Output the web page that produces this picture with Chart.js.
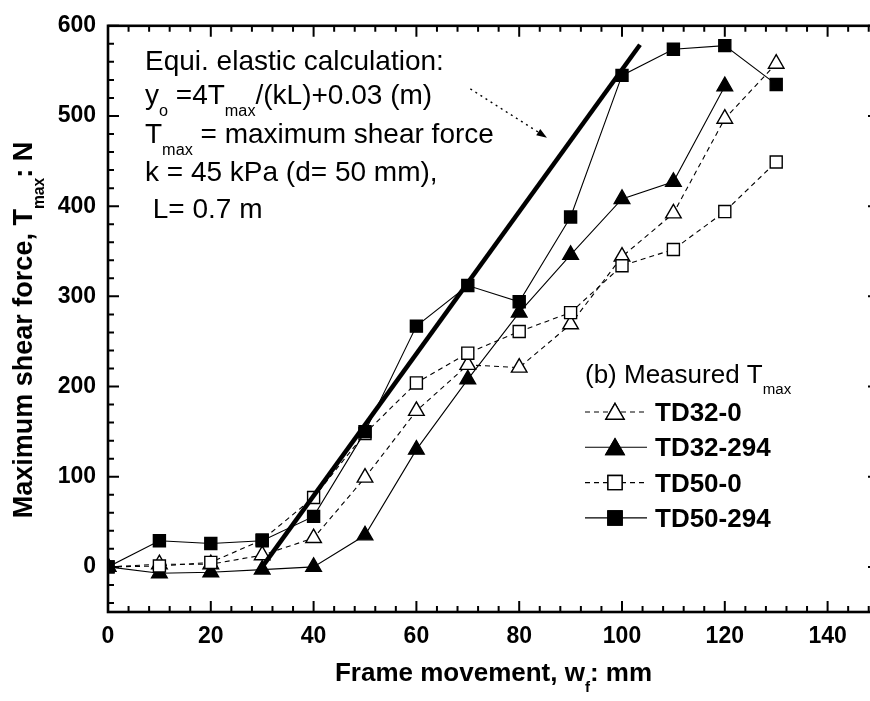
<!DOCTYPE html>
<html>
<head>
<meta charset="utf-8">
<script src="https://cdn.jsdelivr.net/npm/chart.js@4.4.0/dist/chart.umd.min.js"></script>
<style>
  html, body { margin: 0; padding: 0; background: #fff; overflow: hidden; }
  #wrap { position: relative; width: 900px; height: 701px; }
</style>
</head>
<body>
<div id="wrap"><canvas id="shear" width="900" height="701"></canvas></div>
<script>
// frame movement w_f (mm)
const movement = [0, 10, 20, 30, 40, 50, 60, 70, 80, 90, 100, 110, 120, 130];
// measured T_max (N)
const td32_0   = [0, 3, 3, 13, 32, 99, 173, 224, 221, 269, 344, 392, 497, 558];
const td32_294 = [0, -7, -6, -3, 0, 35, 130, 208, 282, 346, 408, 427, 533, null];
const td50_0   = [0, 1, 5, 30, 77, 148, 204, 237, 261, 282, 334, 352, 394, 449];
const td50_294 = [0, 29, 26, 29, 56, 150, 267, 312, 294, 388, 545, 574, 578, 535];
// equivalent elastic calculation (end points)
const elasticX = [30, 103.5];
const elasticY = [0, 579];

const xTickLabels = [0, 20, 40, 60, 80, 100, 120, 140];
const yTickLabels = [0, 100, 200, 300, 400, 500, 600];

const FONT = '"Liberation Sans", Arial, sans-serif';

function pts(xs, ys) {
    return xs.map((x, i) => ({ x: x, y: ys[i] }));
}

const series = [
    { label: 'TD50-294', data: td50_294, style: 'rect', fill: '#000', dash: [] },
    { label: 'TD50-0', data: td50_0, style: 'rect', fill: '#fff', dash: [5, 4] },
    { label: 'TD32-294', data: td32_294, style: 'triangle', fill: '#000', dash: [] },
    { label: 'TD32-0', data: td32_0, style: 'triangle', fill: '#fff', dash: [5, 4] }
];

function makeSet(s) {
    return {
        label: s.label,
        data: pts(movement, s.data),
        borderColor: '#000',
        borderWidth: 1.1,
        borderDash: s.dash,
        pointStyle: s.style,
        pointRadius: s.style == 'rect' ? 8.5 : 9,
        pointBackgroundColor: s.fill,
        pointBorderColor: '#000',
        pointBorderWidth: 1.4,
        spanGaps: false,
        tension: 0
    };
}

// draw a string made of normal / subscript pieces
function runs(ctx, x, y, parts, size, weight) {
    parts.forEach(p => {
        const sz = p.sub ? size * 0.58 : size;
        ctx.font = weight + ' ' + sz + 'px ' + FONT;
        ctx.fillText(p.t, x, y + (p.sub ? size * 0.44 : 0));
        x += ctx.measureText(p.t).width;
    });
    return x;
}

// box, inward ticks, titles, text and legend
const framePlugin = {
    id: 'frame',
    afterDraw(chart) {
        const ctx = chart.ctx;
        const a = chart.chartArea;
        const xs = chart.scales.x, ys = chart.scales.y;
        ctx.save();
        ctx.strokeStyle = '#000';
        ctx.fillStyle = '#000';

        // inward ticks
        ctx.lineWidth = 2;
        ctx.beginPath();
        for (let v = 0; v <= 150; v += 4) {
            const px = xs.getPixelForValue(v);
            const len = v % 20 == 0 ? 11 : 6;
            ctx.moveTo(px, a.bottom); ctx.lineTo(px, a.bottom - len);
            ctx.moveTo(px, a.top); ctx.lineTo(px, a.top + len);
        }
        for (let v = -40; v <= 600; v += 20) {
            const py = ys.getPixelForValue(v);
            const len = v % 100 == 0 ? 11 : 6;
            ctx.moveTo(a.left, py); ctx.lineTo(a.left + len, py);
            ctx.moveTo(a.right, py); ctx.lineTo(a.right - len, py);
        }
        ctx.stroke();

        // box
        ctx.lineWidth = 2.6;
        ctx.strokeRect(a.left, a.top, a.right - a.left, a.bottom - a.top);

        // axis titles
        ctx.textBaseline = 'alphabetic';
        ctx.textAlign = 'left';
        let parts = [{ t: 'Frame movement, w' }, { t: 'f', sub: true }, { t: ': mm' }];
        let w = runs(ctx, -2000, -2000, parts, 26, 'bold') + 2000;
        runs(ctx, (a.left + a.right) / 2 - w / 2, 681, parts, 26, 'bold');

        ctx.save();
        ctx.translate(32, 330);
        ctx.rotate(-Math.PI / 2);
        parts = [{ t: 'Maximum shear force, T' }, { t: 'max', sub: true }, { t: ': N' }];
        w = runs(ctx, -2000, -2000, parts, 27, 'bold') + 2000;
        runs(ctx, -w / 2, 0, parts, 27, 'bold');
        ctx.restore();

        // annotation text
        runs(ctx, 145, 70, [{ t: 'Equi. elastic calculation:' }], 28, 'normal');
        runs(ctx, 145, 104, [{ t: 'y' }, { t: 'o', sub: true }, { t: ' =4T' }, { t: 'max', sub: true }, { t: '/(kL)+0.03 (m)' }], 28, 'normal');
        runs(ctx, 145, 143, [{ t: 'T' }, { t: 'max', sub: true }, { t: ' = maximum shear force' }], 28, 'normal');
        runs(ctx, 145, 181, [{ t: 'k = 45 kPa (d= 50 mm),' }], 28, 'normal');
        runs(ctx, 145, 218, [{ t: ' L= 0.7 m' }], 28, 'normal');

        // dotted arrow
        const x0 = xs.getPixelForValue(70.5), y0 = ys.getPixelForValue(530);
        const x1 = xs.getPixelForValue(85.4), y1 = ys.getPixelForValue(476);
        const ang = Math.atan2(y1 - y0, x1 - x0);
        ctx.lineWidth = 1.4;
        ctx.setLineDash([2, 4]);
        ctx.beginPath();
        ctx.moveTo(x0, y0);
        ctx.lineTo(x1 - 8 * Math.cos(ang), y1 - 8 * Math.sin(ang));
        ctx.stroke();
        ctx.setLineDash([]);
        ctx.beginPath();
        ctx.moveTo(x1, y1);
        ctx.lineTo(x1 - 11 * Math.cos(ang - 0.35), y1 - 11 * Math.sin(ang - 0.35));
        ctx.lineTo(x1 - 11 * Math.cos(ang + 0.35), y1 - 11 * Math.sin(ang + 0.35));
        ctx.closePath();
        ctx.fill();

        // legend
        runs(ctx, 585, 383, [{ t: '(b) Measured T' }, { t: 'max', sub: true }], 26, 'normal');
        const order = [3, 2, 1, 0];
        order.forEach((k, i) => {
            const s = series[k];
            const cy = 412 + i * 35.3;
            ctx.lineWidth = 1.1;
            ctx.setLineDash(s.dash);
            ctx.beginPath();
            ctx.moveTo(585, cy); ctx.lineTo(647, cy);
            ctx.stroke();
            ctx.setLineDash([]);
            ctx.fillStyle = s.fill;
            ctx.lineWidth = 1.4;
            Chart.helpers.drawPoint(ctx, {
                pointStyle: s.style,
                radius: s.style == 'rect' ? 10 : 10.5,
                rotation: 0,
                borderWidth: 1.4
            }, 615, cy + (s.style == 'triangle' ? 2 : 0));
            ctx.fill();
            ctx.stroke();
            ctx.fillStyle = '#000';
            runs(ctx, 655, cy + 9, [{ t: s.label }], 26, 'bold');
        });
        ctx.restore();
    }
};

const tickFont = { family: FONT, size: 23, weight: 'bold' };

new Chart(document.getElementById('shear'), {
    type: 'line',
    data: {
        datasets: [
            {
                label: 'elastic',
                data: pts(elasticX, elasticY),
                borderColor: '#000',
                borderWidth: 4.5,
                pointRadius: 0,
                tension: 0
            }
        ].concat(series.map(makeSet))
    },
    options: {
        responsive: false,
        animation: false,
        devicePixelRatio: 1,
        layout: { padding: { top: 23, right: 21, left: 0, bottom: 0 } },
        plugins: { legend: { display: false }, tooltip: { enabled: false } },
        scales: {
            x: {
                type: 'linear',
                min: 0,
                max: 150,
                grid: { display: false, drawTicks: false },
                border: { display: false },
                afterBuildTicks: s => { s.ticks = xTickLabels.map(v => ({ value: v })); },
                afterFit: s => { s.height = 89; },
                ticks: { font: tickFont, color: '#000', padding: 11, maxRotation: 0, autoSkip: false }
            },
            y: {
                type: 'linear',
                min: -50,
                max: 600,
                grid: { display: false, drawTicks: false },
                border: { display: false },
                afterBuildTicks: s => { s.ticks = yTickLabels.map(v => ({ value: v })); },
                afterFit: s => { s.width = 108; },
                ticks: { font: tickFont, color: '#000', padding: 12, autoSkip: false }
            }
        }
    },
    plugins: [framePlugin]
});
</script>
</body>
</html>
